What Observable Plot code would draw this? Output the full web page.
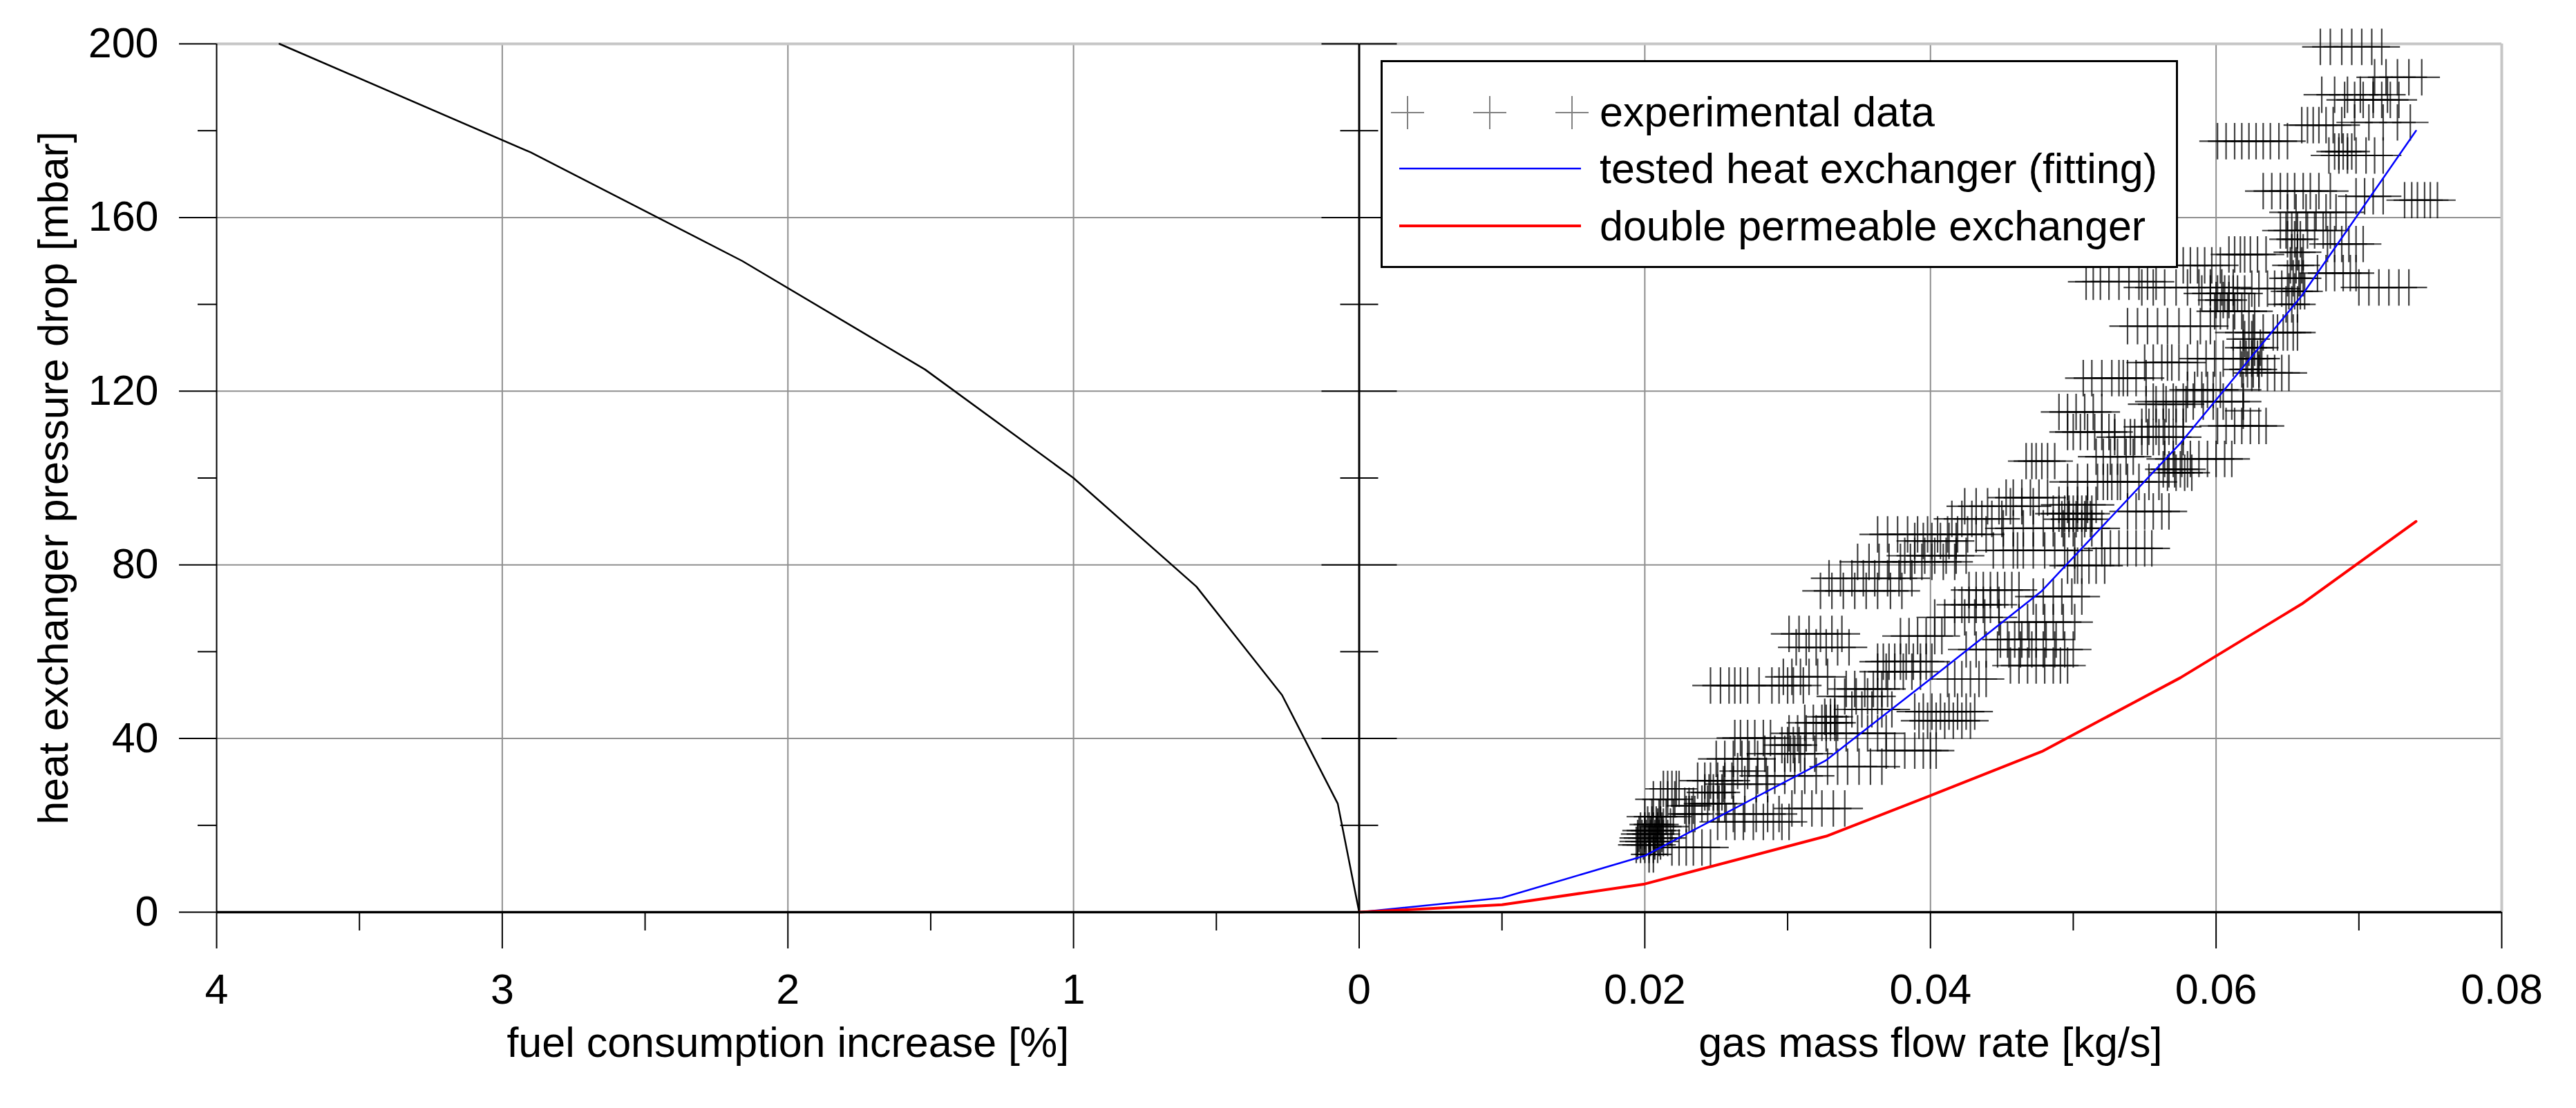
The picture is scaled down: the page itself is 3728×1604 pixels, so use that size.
<!DOCTYPE html>
<html>
<head>
<meta charset="utf-8">
<script src="https://cdn.jsdelivr.net/npm/d3@7"></script>
<script src="https://cdn.jsdelivr.net/npm/@observablehq/plot@0.6"></script>
<style>
html, body { margin: 0; padding: 0; background: #fff; }
#wrap { position: relative; width: 3728px; height: 1604px; font-family: "Liberation Sans", Arial, sans-serif; }
#legend { position: absolute; left: 1998px; top: 87px; }
</style>
</head>
<body>
<div id="wrap"></div>
<script>
// ---- data ----
const fuelPct  = [0, 0.075, 0.27, 0.57, 1.0, 1.52, 2.16, 2.9, 3.78];
const fuelDrop = [0, 25, 50, 75, 100, 125, 150, 175, 200];

const flowRate   = [0, 0.01, 0.02, 0.0327, 0.0405, 0.0478, 0.0575, 0.066, 0.074];
const testedDrop = [0, 3.3, 13, 35, 55, 74, 108, 142, 180];
const doubleDrop = [0, 1.7, 6.5, 17.5, 27.5, 37, 54, 71, 90];

// experimental data: [pressure drop, [mass flow rates...]]
const expRows = [
  [13.3, [0.0203, 0.0206]],
  [15.5, [0.0194, 0.0197, 0.0200, 0.0203, 0.0206, 0.0209]],
  [14.9, [0.0219, 0.0224, 0.0229, 0.0234, 0.0240, 0.0246]],
  [16.3, [0.0195, 0.0199, 0.0203, 0.0207, 0.0211]],
  [17.1, [0.0195, 0.0198, 0.0201, 0.0204, 0.0207, 0.0210, 0.0213, 0.0216]],
  [18.0, [0.0196, 0.0200, 0.0204, 0.0208, 0.0212]],
  [18.8, [0.0197, 0.0200, 0.0203, 0.0206, 0.0209, 0.0212]],
  [20.2, [0.0202, 0.0205, 0.0208, 0.0211]],
  [19.7, [0.0209, 0.0213, 0.0218]],
  [22.0, [0.0200, 0.0205, 0.0210, 0.0215, 0.0220]],
  [20.8, [0.0251, 0.0257, 0.0263, 0.0269, 0.0276, 0.0283, 0.0290, 0.0296, 0.0301]],
  [22.6, [0.0229, 0.0231, 0.0233, 0.0235, 0.0262, 0.0270, 0.0278, 0.0286, 0.0294]],
  [24.5, [0.0228, 0.0231, 0.0234]],
  [23.9, [0.0303, 0.0310, 0.0317, 0.0324, 0.0332, 0.0340]],
  [25.0, [0.0240, 0.0244, 0.0248, 0.0252, 0.0256]],
  [26.0, [0.0206, 0.0211, 0.0216, 0.0221]],
  [27.6, [0.0242, 0.0245, 0.0248, 0.0251, 0.0254]],
  [28.4, [0.0213, 0.0216, 0.0219, 0.0222, 0.0224]],
  [29.5, [0.0255, 0.0262, 0.0270, 0.0278, 0.0286]],
  [30.3, [0.0237, 0.0242, 0.0246, 0.0251, 0.0256, 0.0261]],
  [31.4, [0.0279, 0.0285, 0.0291, 0.0298, 0.0305, 0.0312, 0.0320]],
  [32.5, [0.0265, 0.0272]],
  [33.5, [0.0328, 0.0335, 0.0342, 0.0350, 0.0358, 0.0366]],
  [35.3, [0.0250, 0.0256, 0.0262, 0.0268, 0.0273, 0.0279]],
  [36.5, [0.0284, 0.0291, 0.0298, 0.0302, 0.0305, 0.0309, 0.0312, 0.0319]],
  [37.2, [0.0369, 0.0375, 0.0382, 0.0389, 0.0395, 0.0400, 0.0404]],
  [38.5, [0.0296, 0.0300, 0.0304, 0.0308]],
  [40.1, [0.0263, 0.0267, 0.0272, 0.0277, 0.0283, 0.0288]],
  [41.2, [0.0301, 0.0307, 0.0313, 0.0320, 0.0327, 0.0334, 0.0341, 0.0349, 0.0356, 0.0363, 0.0369]],
  [43.6, [0.0312, 0.0318, 0.0324, 0.0327, 0.0330, 0.0333, 0.0335]],
  [45.0, [0.0326, 0.0330, 0.0333]],
  [44.1, [0.0392, 0.0398, 0.0404, 0.0410, 0.0416, 0.0422, 0.0428]],
  [46.2, [0.0389, 0.0395, 0.0401, 0.0407, 0.0413, 0.0419, 0.0425, 0.0431]],
  [46.7, [0.0345, 0.0352, 0.0359, 0.0366, 0.0373]],
  [49.7, [0.0333, 0.0340, 0.0348, 0.0356, 0.0363]],
  [51.4, [0.0341, 0.0347, 0.0354, 0.0360, 0.0366, 0.0370]],
  [52.2, [0.0246, 0.0253, 0.0259, 0.0263, 0.0267, 0.0272, 0.0280, 0.0289, 0.0294, 0.0300, 0.0304, 0.0311]],
  [53.7, [0.0412, 0.0417, 0.0422, 0.0428, 0.0434, 0.0439]],
  [54.2, [0.0297, 0.0303, 0.0309, 0.0315, 0.0321, 0.0328]],
  [55.4, [0.0363, 0.0369, 0.0375, 0.0381, 0.0387, 0.0393]],
  [56.8, [0.0456, 0.0462, 0.0468, 0.0474, 0.0480, 0.0486, 0.0491, 0.0496]],
  [57.7, [0.0363, 0.0367, 0.0371, 0.0375, 0.0379, 0.0383, 0.0388, 0.0393, 0.0397, 0.0401]],
  [60.5, [0.0425, 0.0432, 0.0439, 0.0447, 0.0455, 0.0463, 0.0471, 0.0479, 0.0487, 0.0494, 0.0500]],
  [61.0, [0.0306, 0.0313, 0.0320, 0.0327, 0.0335, 0.0343]],
  [62.8, [0.0449, 0.0454, 0.0459, 0.0464, 0.0469, 0.0474, 0.0481, 0.0488]],
  [63.6, [0.0379, 0.0385, 0.0391, 0.0397, 0.0403, 0.0408]],
  [64.1, [0.0301, 0.0308, 0.0315, 0.0323, 0.0331, 0.0338]],
  [66.8, [0.0462, 0.0468, 0.0474, 0.0480, 0.0486, 0.0493, 0.0501]],
  [67.9, [0.0403, 0.0410, 0.0417, 0.0424, 0.0431, 0.0438, 0.0448]],
  [70.8, [0.0417, 0.0422, 0.0427, 0.0432, 0.0437, 0.0442, 0.0448]],
  [72.7, [0.0472, 0.0479, 0.0486, 0.0492, 0.0499, 0.0506]],
  [74.0, [0.0323, 0.0331, 0.0339, 0.0347, 0.0355, 0.0363, 0.0372, 0.0380]],
  [74.2, [0.0427, 0.0432, 0.0437, 0.0442, 0.0447, 0.0452, 0.0457, 0.0462]],
  [76.9, [0.0329, 0.0337, 0.0345, 0.0353, 0.0361, 0.0370, 0.0378, 0.0387]],
  [79.8, [0.0496, 0.0501, 0.0503, 0.0506, 0.0511, 0.0516, 0.0522]],
  [80.7, [0.0349, 0.0357, 0.0364, 0.0371, 0.0379, 0.0386, 0.0394, 0.0401, 0.0409, 0.0417]],
  [82.1, [0.0382, 0.0389, 0.0396, 0.0403, 0.0411, 0.0418, 0.0425]],
  [83.3, [0.0444, 0.0451, 0.0458, 0.0461, 0.0465, 0.0472, 0.0480, 0.0487, 0.0494, 0.0501]],
  [83.8, [0.0520, 0.0526, 0.0532, 0.0538, 0.0544, 0.0550, 0.0555]],
  [85.5, [0.0389, 0.0395, 0.0401, 0.0407, 0.0413, 0.0418]],
  [87.0, [0.0363, 0.0370, 0.0377, 0.0384, 0.0391, 0.0398, 0.0405, 0.0412, 0.0419, 0.0426, 0.0432, 0.0439]],
  [88.4, [0.0451, 0.0458, 0.0465, 0.0472, 0.0479, 0.0486, 0.0493, 0.0500, 0.0506, 0.0513, 0.0520]],
  [90.6, [0.0415, 0.0422, 0.0429, 0.0436, 0.0443, 0.0450]],
  [90.5, [0.0492, 0.0497, 0.0502, 0.0508, 0.0512]],
  [91.8, [0.0486, 0.0490, 0.0494, 0.0497, 0.0500, 0.0503, 0.0506, 0.0509, 0.0513]],
  [92.3, [0.0538, 0.0544, 0.0550, 0.0556, 0.0562, 0.0567]],
  [93.5, [0.0424, 0.0432, 0.0440, 0.0448, 0.0456, 0.0464, 0.0472]],
  [93.8, [0.0490, 0.0496, 0.0503, 0.0510, 0.0516]],
  [95.5, [0.0453, 0.0458, 0.0464, 0.0470, 0.0476, 0.0482]],
  [99.1, [0.0496, 0.0503, 0.0510, 0.0517, 0.0521, 0.0524, 0.0527, 0.0531, 0.0533, 0.0538, 0.0546, 0.0553, 0.0560]],
  [101.2, [0.0566, 0.0572, 0.0578, 0.0583]],
  [102.0, [0.0563, 0.0567, 0.0571, 0.0575, 0.0580]],
  [103.9, [0.0467, 0.0471, 0.0474, 0.0478, 0.0482, 0.0487]],
  [104.4, [0.0564, 0.0570, 0.0576, 0.0582, 0.0588, 0.0594, 0.0600, 0.0606, 0.0611]],
  [104.9, [0.0516, 0.0521, 0.0526, 0.0531, 0.0537, 0.0542]],
  [109.4, [0.0529, 0.0536, 0.0540, 0.0543, 0.0548, 0.0552, 0.0556, 0.0560, 0.0564, 0.0570, 0.0577]],
  [110.6, [0.0496, 0.0500, 0.0505, 0.0510, 0.0515, 0.0520, 0.0525, 0.0529]],
  [111.8, [0.0548, 0.0553, 0.0558, 0.0563, 0.0567, 0.0572, 0.0577]],
  [112.0, [0.0601, 0.0607, 0.0613, 0.0618, 0.0624, 0.0630, 0.0635]],
  [115.2, [0.0490, 0.0496, 0.0502, 0.0508, 0.0514, 0.0520]],
  [115.5, [0.0619]],
  [117.0, [0.0551, 0.0558, 0.0565, 0.0572, 0.0579]],
  [117.6, [0.0556, 0.0563, 0.0570, 0.0577, 0.0584, 0.0591, 0.0598, 0.0605, 0.0611, 0.0619]],
  [120.3, [0.0580, 0.0585, 0.0590, 0.0594, 0.0598, 0.0603, 0.0619]],
  [123.0, [0.0507, 0.0513, 0.0520, 0.0527, 0.0532, 0.0535, 0.0538, 0.0544, 0.0551]],
  [124.2, [0.0625, 0.0630, 0.0636, 0.0641, 0.0646, 0.0651]],
  [125.0, [0.0618, 0.0622, 0.0626, 0.0630]],
  [126.6, [0.0550, 0.0556, 0.0562, 0.0566, 0.0569, 0.0574, 0.0580]],
  [127.5, [0.0587, 0.0593, 0.0599, 0.0605, 0.0612, 0.0617, 0.0621, 0.0625, 0.0629, 0.0632]],
  [130.0, [0.0619, 0.0623, 0.0627, 0.0631]],
  [132.0, [0.0620, 0.0625]],
  [133.5, [0.0612, 0.0619, 0.0626, 0.0633, 0.0640, 0.0643, 0.0647, 0.0650, 0.0654, 0.0657]],
  [135.0, [0.0538, 0.0545, 0.0552, 0.0559, 0.0566, 0.0574, 0.0582, 0.0589, 0.0596]],
  [138.4, [0.0599, 0.0603, 0.0608, 0.0613, 0.0618, 0.0623, 0.0627]],
  [140.0, [0.0649, 0.0653, 0.0657]],
  [141.0, [0.0600, 0.0605, 0.0609]],
  [142.5, [0.0590, 0.0596, 0.0601, 0.0606, 0.0609, 0.0612, 0.0615, 0.0620]],
  [143.0, [0.0651, 0.0655, 0.0659, 0.0662]],
  [143.6, [0.0625, 0.0630, 0.0636, 0.0641, 0.0646]],
  [143.9, [0.0548, 0.0556, 0.0564, 0.0572, 0.0580, 0.0588, 0.0596, 0.0604, 0.0612, 0.0700, 0.0707, 0.0714, 0.0721, 0.0728, 0.0735]],
  [145.2, [0.0509, 0.0514, 0.0519, 0.0525, 0.0532, 0.0539, 0.0546, 0.0552, 0.0558]],
  [146.0, [0.0650, 0.0654, 0.0658, 0.0661]],
  [147.2, [0.0671, 0.0677, 0.0683, 0.0689, 0.0694, 0.0698]],
  [149.0, [0.0577, 0.0582, 0.0587, 0.0592, 0.0597, 0.0603, 0.0652, 0.0656, 0.0660]],
  [151.5, [0.0609, 0.0613, 0.0617, 0.0620, 0.0624, 0.0629, 0.0635]],
  [152.0, [0.0653, 0.0657, 0.0661]],
  [153.9, [0.0678, 0.0683, 0.0688, 0.0693, 0.0698, 0.0703]],
  [155.0, [0.0650, 0.0655, 0.0659]],
  [157.0, [0.0645, 0.0649, 0.0653, 0.0657, 0.0664, 0.0669, 0.0675, 0.0680]],
  [161.2, [0.0650, 0.0656, 0.0663, 0.0670, 0.0677, 0.0684, 0.0691]],
  [164.0, [0.0732, 0.0737, 0.0741, 0.0746, 0.0750, 0.0755]],
  [164.9, [0.0698, 0.0704, 0.0710, 0.0717]],
  [166.1, [0.0633, 0.0639, 0.0645, 0.0650, 0.0655, 0.0661, 0.0666, 0.0672, 0.0680]],
  [174.3, [0.0679, 0.0686, 0.0692, 0.0698, 0.0705, 0.0711, 0.0717]],
  [175.2, [0.0683, 0.0686, 0.0689, 0.0692, 0.0695]],
  [177.6, [0.0601, 0.0607, 0.0613, 0.0618, 0.0623, 0.0628, 0.0633, 0.0638, 0.0644, 0.0650]],
  [181.3, [0.0660, 0.0664, 0.0668, 0.0672, 0.0677, 0.0682, 0.0688]],
  [181.9, [0.0697, 0.0707, 0.0717, 0.0727, 0.0736]],
  [187.1, [0.0690, 0.0697, 0.0703, 0.0710, 0.0716, 0.0722, 0.0728]],
  [188.3, [0.0674, 0.0683, 0.0692, 0.0701, 0.0710, 0.0720]],
  [192.3, [0.0711, 0.0719, 0.0727, 0.0735, 0.0744]],
  [199.3, [0.0673, 0.0680, 0.0688, 0.0695, 0.0702, 0.0709, 0.0716]]
];

// ---- axes / labels ----
const yTicks = [0, 40, 80, 120, 160, 200];
const yMinorTicks = [20, 60, 100, 140, 180];
const fuelTicks = [4, 3, 2, 1, 0];
const fuelMinorTicks = [3.5, 2.5, 1.5, 0.5];
const flowTicks = [0.02, 0.04, 0.06, 0.08];
const flowMinorTicks = [0.01, 0.03, 0.05, 0.07];
const xTitles = ["fuel consumption increase [%]", "gas mass flow rate [kg/s]"];
const yTitle = "heat exchanger pressure drop [mbar]";
const legendLabels = ["experimental data", "tested heat exchanger (fitting)", "double permeable exchanger"];

// ---- layout ----
const W = 3728, H = 1604;
const mL = 313, mR = 108, mT = 63, mB = 284;
const half = (W - mL - mR) / 2;          // px from frame edge to the shared zero axis
const ratio = flowTicks[flowTicks.length - 1] / fuelTicks[0]; // fuel % -> shared axis units
const fu = p => -p * ratio;               // left panel runs right-to-left

const fuelData = fuelPct.map((p, i) => ({u: fu(p), y: fuelDrop[i]}));
const testedData = flowRate.map((x, i) => ({x, y: testedDrop[i]}));
const doubleData = flowRate.map((x, i) => ({x, y: doubleDrop[i]}));
const expData = expRows.flatMap(([y, xs]) => xs.map(x => ({x, y})));

const fmtX = d => d < 0 ? String(Math.round(-d / ratio)) : (d === 0 ? "0" : d.toFixed(2));
const gridColor = "#8f8f8f";
const noText = () => "";

const chart = Plot.plot({
  width: W, height: H,
  marginLeft: mL, marginRight: mR, marginTop: mT, marginBottom: mB,
  x: {domain: [fu(fuelTicks[0]), flowTicks[flowTicks.length - 1]]},
  y: {domain: [0, 200]},
  style: {fontFamily: '"Liberation Sans", Arial, sans-serif', fontSize: "61px", color: "#000", background: "#fff", overflow: "visible"},
  marks: [
    Plot.ruleX([...fuelTicks.slice(1, -1).map(fu), ...flowTicks.slice(0, -1)], {stroke: gridColor, strokeWidth: 2}),
    Plot.ruleY(yTicks.slice(1, -1), {stroke: gridColor, strokeWidth: 2}),
    Plot.ruleY([200], {stroke: "#c6c6c6", strokeWidth: 4}),
    Plot.ruleX([flowTicks[flowTicks.length - 1]], {stroke: "#c6c6c6", strokeWidth: 4}),
    Plot.ruleX([fu(fuelTicks[0])], {stroke: "#000", strokeWidth: 2}),
    Plot.ruleX([0], {stroke: "#000", strokeWidth: 3}),
    Plot.line(fuelData, {x: "u", y: "y", stroke: "#000", strokeWidth: 2.5}),
    Plot.dot(expData, {x: "x", y: "y", symbol: "plus", r: 17, fill: "none", stroke: "#000", strokeOpacity: 0.75, strokeWidth: 2.2}),
    Plot.line(testedData, {x: "x", y: "y", stroke: "#0000ff", strokeWidth: 2.5}),
    Plot.line(doubleData, {x: "x", y: "y", stroke: "#ff0000", strokeWidth: 4}),
    Plot.ruleY([0], {stroke: "#000", strokeWidth: 3.5}),
    Plot.axisX([...fuelTicks.map(fu), ...flowTicks], {tickSize: 53, tickPadding: 36, strokeWidth: 2, tickFormat: fmtX, label: null, fontSize: 61}),
    Plot.axisX([...fuelMinorTicks.map(fu), ...flowMinorTicks], {tickSize: 27, strokeWidth: 2, tickFormat: noText, label: null}),
    Plot.axisY(yTicks, {anchor: "left", tickSize: 54, tickPadding: 30, strokeWidth: 2, label: null, fontSize: 61}),
    Plot.axisY(yMinorTicks, {anchor: "left", tickSize: 27, strokeWidth: 2, tickFormat: noText, label: null}),
    Plot.axisY(yTicks, {anchor: "left", dx: half, tickSize: 54, strokeWidth: 2, tickFormat: noText, label: null}),
    Plot.axisY(yTicks, {anchor: "right", dx: -half, tickSize: 54, strokeWidth: 2, tickFormat: noText, label: null}),
    Plot.axisY(yMinorTicks, {anchor: "left", dx: half, tickSize: 27, strokeWidth: 2, tickFormat: noText, label: null}),
    Plot.axisY(yMinorTicks, {anchor: "right", dx: -half, tickSize: 27, strokeWidth: 2, tickFormat: noText, label: null}),
    Plot.text([yTitle], {frameAnchor: "left", dx: -235, rotate: -90, textAnchor: "middle", lineAnchor: "middle", text: d => d, fontSize: 61, fill: "#000"}),
    Plot.text(xTitles, {x: [fu(fuelTicks[0] / 2), flowTicks[flowTicks.length - 1] / 2], frameAnchor: "bottom", dy: 190, textAnchor: "middle", lineAnchor: "middle", text: d => d, fontSize: 61, fill: "#000"})
  ]
});

const wrap = document.getElementById("wrap");
wrap.appendChild(chart);

// ---- legend box (drawn inside the plot area, as in the reference) ----
const lg = d3.create("svg").attr("id", "legend").attr("width", 1154).attr("height", 301)
  .style("font-family", '"Liberation Sans", Arial, sans-serif');
lg.append("rect").attr("x", 1.5).attr("y", 1.5).attr("width", 1151).attr("height", 298)
  .attr("fill", "#fff").attr("stroke", "#000").attr("stroke-width", 3);
const crossG = lg.append("g").attr("stroke", "#808080").attr("stroke-width", 2);
[39, 158, 277].forEach(cx => {
  crossG.append("path").attr("d", `M${cx - 24},76H${cx + 24}M${cx},52V100`);
});
lg.append("line").attr("x1", 27).attr("x2", 290).attr("y1", 157).attr("y2", 157).attr("stroke", "#0000ff").attr("stroke-width", 2.5);
lg.append("line").attr("x1", 27).attr("x2", 290).attr("y1", 240).attr("y2", 240).attr("stroke", "#ff0000").attr("stroke-width", 4);
[96, 178, 261].forEach((by, i) => {
  lg.append("text").attr("x", 317).attr("y", by).attr("font-size", 61).attr("fill", "#000").text(legendLabels[i]);
});
wrap.appendChild(lg.node());
</script>
</body>
</html>
